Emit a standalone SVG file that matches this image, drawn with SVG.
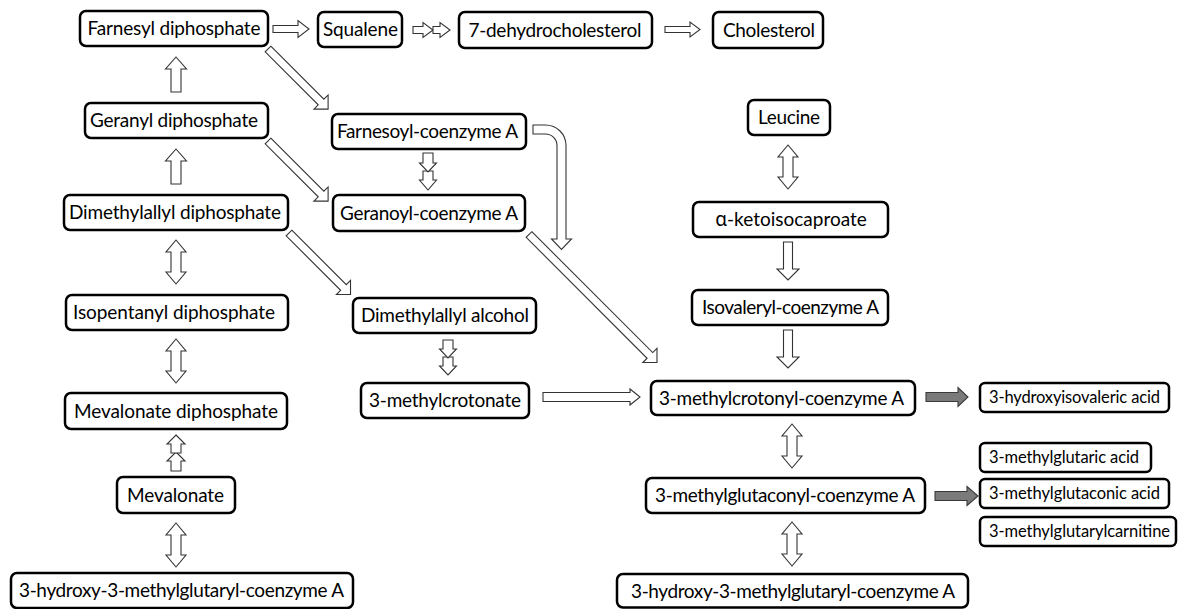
<svg xmlns="http://www.w3.org/2000/svg" xmlns:xlink="http://www.w3.org/1999/xlink" width="1178" height="609" viewBox="0 0 1178 609">
<style>
.box{fill:#fff;stroke:#000;stroke-width:2.5}
.t{font-family:Lato,"Liberation Sans",sans-serif;font-size:19px;fill:#000;text-anchor:middle}
.s{font-family:Lato,"Liberation Sans",sans-serif;font-size:16.5px;fill:#000;text-anchor:middle}
.gr{font-family:"Noto Sans","DejaVu Sans",sans-serif}
.a{fill:#fff;stroke:#333;stroke-width:1.1;stroke-linejoin:miter}
.g{fill:#7a7a7a;stroke:#3a3a3a;stroke-width:1.1}
</style>
<defs>
<path id="dbl" d="M0,0 L10,12 H5 V32 H10 L0,44 L-10,32 H-5 V12 H-10 Z"/>
</defs>
<rect width="1178" height="609" fill="#fff"/>
<g id="connectors">
<polygon class="a" points="273,25.5 298,25.5 298,20.5 309,29 298,37.5 298,32.5 273,32.5"/>
<polygon class="a" points="413,26.5 423,26.5 423,22.5 433,30 423,37.5 423,33.5 413,33.5"/>
<polygon class="a" points="433,26.5 440,26.5 440,22.5 450,30 440,37.5 440,33.5 433,33.5"/>
<polygon class="a" points="665,26.5 690,26.5 690,22 700,29.5 690,37 690,32.5 665,32.5"/>
<polygon class="a" points="176,57 186.5,69 181,69 181,92 171,92 171,69 165.5,69"/>
<polygon class="a" points="176,149 186.5,161 181,161 181,184 171,184 171,161 165.5,161"/>
<use href="#dbl" class="a" transform="translate(176,240)"/>
<use href="#dbl" class="a" transform="translate(176,339)"/>
<polygon class="a" points="176,452 185,461 181,461 181,471 171,471 171,461 167,461"/>
<polygon class="a" points="176,435 185,444 181,444 181,453 171,453 171,444 167,444"/>
<use href="#dbl" class="a" transform="translate(176,523)"/>
<path class="a" transform="translate(268,49) rotate(45)" d="M0,-4 H75 V-10 L85,0 L75,10 V4 H0 Z"/>
<path class="a" transform="translate(268,141) rotate(45)" d="M0,-4 H75 V-10 L85,0 L75,10 V4 H0 Z"/>
<path class="a" transform="translate(289,233) rotate(45)" d="M0,-4 H77 V-10 L87,0 L77,10 V4 H0 Z"/>
<path class="a" transform="translate(529,234.5) rotate(45)" d="M0,-4 H171 V-10 L181,0 L171,10 V4 H0 Z"/>
<polygon class="a" points="423,171 433,171 433,180 436.5,180 428,190 419.5,180 423,180"/>
<polygon class="a" points="423,153 433,153 433,163 436.5,163 428,172 419.5,163 423,163"/>
<polygon class="a" points="443,357 453,357 453,366 456.5,366 448,375 439.5,366 443,366"/>
<polygon class="a" points="443,340 453,340 453,349 456.5,349 448,358 439.5,349 443,349"/>
<path class="a" d="M533,125 H545.5 A20.5,20.5 0 0 1 566,145.5 V239 H571.5 L561.5,249.5 L551.5,239 H557 V145.5 A11.5,11.5 0 0 0 545.5,134 H533 Z"/>
<polygon class="a" points="543,392.5 630,392.5 630,389 640,397 630,405 630,401.5 543,401.5"/>
<use href="#dbl" class="a" transform="translate(788,145)"/>
<polygon class="a" points="783.5,242 792.5,242 792.5,269 799,269 788,280 777,269 783.5,269"/>
<polygon class="a" points="783.5,330 792.5,330 792.5,357 799,357 788,368 777,357 783.5,357"/>
<use href="#dbl" class="a" transform="translate(792,424)"/>
<use href="#dbl" class="a" transform="translate(792,522)"/>
<polygon class="g" points="926,392.5 958,392.5 958,387.5 968,397 958,406.5 958,401.5 926,401.5"/>
<polygon class="g" points="935,491.5 967,491.5 967,486.5 978,496 967,505.5 967,500.5 935,500.5"/>
</g>
<g id="n-farnesyl-dp"><rect class="box" x="80" y="11" width="188" height="35" rx="6"/><text class="t" x="174" y="35" textLength="173">Farnesyl diphosphate</text></g>
<g id="n-squalene"><rect class="box" x="318" y="12" width="84" height="35" rx="6"/><text class="t" x="360.5" y="36" textLength="75">Squalene</text></g>
<g id="n-7dhc"><rect class="box" x="459" y="12" width="193" height="36" rx="6"/><text class="t" x="555" y="36.5" textLength="173">7-dehydrocholesterol</text></g>
<g id="n-cholesterol"><rect class="box" x="713" y="12" width="110" height="36" rx="6"/><text class="t" x="769" y="36.5" textLength="92">Cholesterol</text></g>
<g id="n-geranyl-dp"><rect class="box" x="85" y="103" width="183" height="35" rx="6"/><text class="t" x="174" y="127" textLength="168">Geranyl diphosphate</text></g>
<g id="n-farnesoyl-coa"><rect class="box" x="332" y="114" width="194" height="35" rx="6"/><text class="t" x="427.5" y="138" textLength="181">Farnesoyl-coenzyme A</text></g>
<g id="n-dimethylallyl-dp"><rect class="box" x="64" y="195" width="224" height="35" rx="6"/><text class="t" x="175" y="219" textLength="212">Dimethylallyl diphosphate</text></g>
<g id="n-geranoyl-coa"><rect class="box" x="333" y="195" width="192" height="36" rx="6"/><text class="t" x="429" y="219.5" textLength="178">Geranoyl-coenzyme A</text></g>
<g id="n-leucine"><rect class="box" x="748" y="100" width="82" height="35" rx="6"/><text class="t" x="789" y="124" textLength="62">Leucine</text></g>
<g id="n-kic"><rect class="box" x="693" y="202" width="195" height="35" rx="6"/><text class="t" x="791" y="226"><tspan class="gr">α</tspan>-ketoisocaproate</text></g>
<g id="n-isovaleryl-coa"><rect class="box" x="692" y="290" width="196" height="35" rx="6"/><text class="t" x="790.5" y="314" textLength="177">Isovaleryl-coenzyme A</text></g>
<g id="n-isopentanyl-dp"><rect class="box" x="66" y="295" width="222" height="35" rx="6"/><text class="t" x="174" y="319" textLength="202">Isopentanyl diphosphate</text></g>
<g id="n-dimethylallyl-alcohol"><rect class="box" x="353" y="298" width="183" height="35" rx="6"/><text class="t" x="445" y="322" textLength="168">Dimethylallyl alcohol</text></g>
<g id="n-3-methylcrotonate"><rect class="box" x="361" y="383" width="168" height="35" rx="6"/><text class="t" x="445" y="407" textLength="152">3-methylcrotonate</text></g>
<g id="n-mevalonate-dp"><rect class="box" x="65" y="393" width="222" height="36" rx="6"/><text class="t" x="176" y="417.5" textLength="204">Mevalonate diphosphate</text></g>
<g id="n-mevalonate"><rect class="box" x="117" y="477" width="118" height="36" rx="6"/><text class="t" x="175.5" y="501.5" textLength="97">Mevalonate</text></g>
<g id="n-hmg-coa-left"><rect class="box" x="11" y="573" width="342" height="35" rx="6"/><text class="t" x="181.5" y="597" textLength="325">3-hydroxy-3-methylglutaryl-coenzyme A</text></g>
<g id="n-mc-coa"><rect class="box" x="651" y="381" width="264" height="34" rx="6"/><text class="t" x="781.5" y="404.5" textLength="245">3-methylcrotonyl-coenzyme A</text></g>
<g id="n-mg-coa"><rect class="box" x="646" y="478" width="279" height="35" rx="6"/><text class="t" x="785" y="502" textLength="260">3-methylglutaconyl-coenzyme A</text></g>
<g id="n-hmg-coa-right"><rect class="box" x="617" y="574" width="351" height="33.5" rx="6"/><text class="t" x="793" y="597.5" textLength="324">3-hydroxy-3-methylglutaryl-coenzyme A</text></g>
<g id="n-3hiva"><rect class="box" x="980" y="383" width="189" height="29" rx="5"/><text class="s" x="1074.5" y="403" textLength="171">3-hydroxyisovaleric acid</text></g>
<g id="n-3mga"><rect class="box" x="980" y="443" width="171" height="29" rx="5"/><text class="s" x="1064" y="463" textLength="150">3-methylglutaric acid</text></g>
<g id="n-3mgca"><rect class="box" x="980" y="479" width="189" height="29" rx="5"/><text class="s" x="1074.5" y="499" textLength="171">3-methylglutaconic acid</text></g>
<g id="n-3mg-carnitine"><rect class="box" x="980" y="517" width="196" height="29" rx="5"/><text class="s" x="1079.5" y="537" textLength="181">3-methylglutarylcarnitine</text></g>
</svg>
